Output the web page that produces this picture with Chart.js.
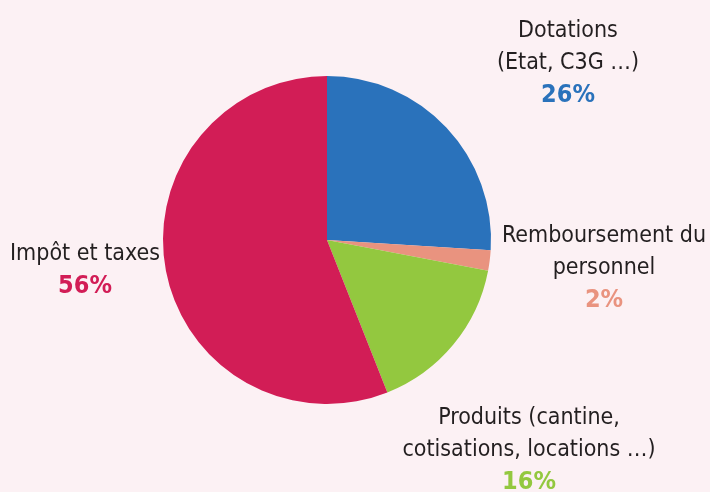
<!DOCTYPE html>
<html>
<head>
<meta charset="utf-8">
<script src="https://cdn.jsdelivr.net/npm/chart.js@4/dist/chart.umd.min.js"></script>
<style>
  html, body { margin: 0; padding: 0; background: #fcf1f4; }
  #wrap { width: 710px; height: 492px; }
</style>
</head>
<body>
<div id="wrap"><canvas id="chart" width="710" height="492"></canvas></div>
<script>
const categories = ['Dotations', 'Remboursement du personnel', 'Produits', 'Impôt et taxes'];
const shares = [26, 2, 16, 56];
const sliceColors = ['#2a72bb', '#e9937f', '#93c83f', '#d21d56'];

// label text lines for each slice, in the same order as categories
const labelLines = [
  ['Dotations', '(Etat, C3G …)'],
  ['Remboursement du', 'personnel'],
  ['Produits (cantine,', 'cotisations, locations …)'],
  ['Impôt et taxes']
];
const labelAnchors = [
  { x: 568, y: 31 },
  { x: 604, y: 236 },
  { x: 529, y: 418 },
  { x: 85, y: 254 }
];

const FONT = '"DejaVu Sans Condensed", "Liberation Sans Narrow", sans-serif';

const outerLabels = {
  id: 'outerLabels',
  afterDraw(chart) {
    const ctx = chart.ctx;
    ctx.save();
    ctx.textAlign = 'center';
    ctx.textBaseline = 'middle';
    labelLines.forEach((lines, i) => {
      const a = labelAnchors[i];
      let y = a.y;
      ctx.fillStyle = '#231f20';
      ctx.font = '23px ' + FONT;
      lines.forEach(line => {
        ctx.fillText(line, a.x, y);
        y += 32;
      });
      ctx.fillStyle = sliceColors[i];
      ctx.font = 'bold 25px ' + FONT;
      ctx.fillText(shares[i] + '%', a.x, y);
    });
    ctx.restore();
  }
};

new Chart(document.getElementById('chart'), {
  type: 'pie',
  data: {
    labels: categories,
    datasets: [{
      data: shares,
      backgroundColor: sliceColors,
      borderWidth: 0
    }]
  },
  options: {
    responsive: false,
    animation: false,
    layout: { padding: { top: 76, bottom: 88, left: 163, right: 219 } },
    plugins: {
      legend: { display: false },
      tooltip: { enabled: false }
    }
  },
  plugins: [outerLabels]
});
</script>
</body>
</html>
